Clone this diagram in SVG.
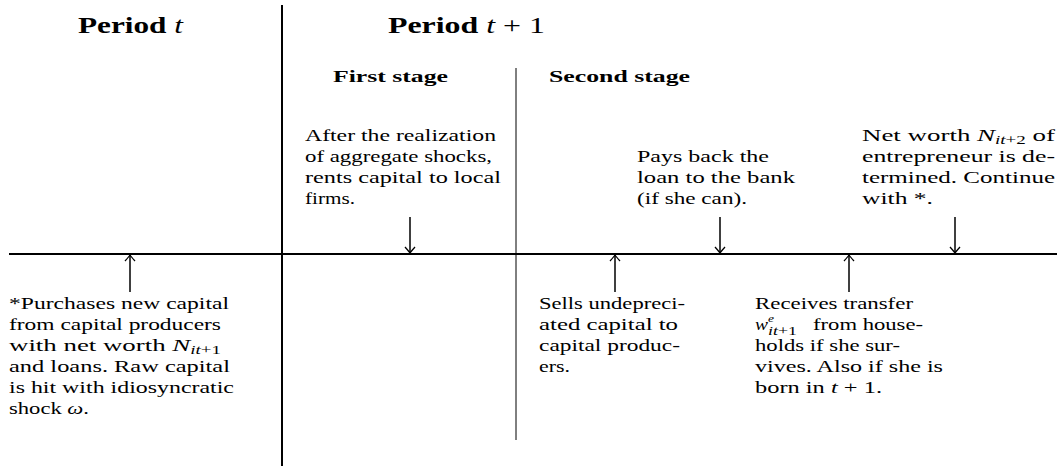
<svg xmlns="http://www.w3.org/2000/svg" width="1057" height="469" viewBox="0 0 1057 469">
<style>
text{font-family:"Liberation Serif","Times New Roman",serif;fill:#000}
.t{font-size:17px}
.h{font-size:23px}
.bf{font-weight:bold}
.s{font-size:17px;font-weight:bold}
.i{font-style:italic}
.m{font-weight:normal}
.sm{font-size:12px}
.ss{font-size:11px}
.ln{stroke:#000;fill:none}
.ar{stroke:#000;stroke-width:1.5;fill:none;marker-end:url(#ah)}
</style>
<defs>
<marker id="ah" markerUnits="userSpaceOnUse" markerWidth="14" markerHeight="14" viewBox="-7 -7 14 14" refX="0" refY="0" orient="auto">
<path d="M-6,-5 Q-1.5,-1 0,0 Q-1.5,1 -6,5" fill="none" stroke="#000" stroke-width="1.3"/>
</marker>
</defs>
<rect width="1057" height="469" fill="#fff"/>
<g id="connectors">
<line class="ln" x1="9" y1="254" x2="1057" y2="254" stroke-width="2"/>
<line class="ln" x1="282" y1="5" x2="282" y2="466" stroke-width="2"/>
<line class="ln" x1="516" y1="68" x2="516" y2="440" stroke-width="1"/>
<line class="ar" x1="130" y1="292" x2="130" y2="255"/>
<line class="ar" x1="410" y1="217" x2="410" y2="253"/>
<line class="ar" x1="615" y1="292" x2="615" y2="255"/>
<line class="ar" x1="720" y1="217" x2="720" y2="253"/>
<line class="ar" x1="849" y1="292" x2="849" y2="255"/>
<line class="ar" x1="955" y1="217" x2="955" y2="253"/>
</g>
<g id="headers">
<text class="h bf" x="78" y="33" textLength="105" lengthAdjust="spacingAndGlyphs">Period <tspan class="i m">t</tspan></text>
<text class="h bf" x="388" y="33" textLength="157" lengthAdjust="spacingAndGlyphs">Period <tspan class="i m">t</tspan><tspan class="m"> + 1</tspan></text>
<text class="s" x="333" y="82" textLength="115" lengthAdjust="spacingAndGlyphs">First stage</text>
<text class="s" x="549" y="82" textLength="141" lengthAdjust="spacingAndGlyphs">Second stage</text>
</g>
<g id="node-rent">
<text class="t" x="305" y="141" textLength="191" lengthAdjust="spacingAndGlyphs">After the realization</text>
<text class="t" x="305" y="162" textLength="187" lengthAdjust="spacingAndGlyphs">of aggregate shocks,</text>
<text class="t" x="305" y="183" textLength="196" lengthAdjust="spacingAndGlyphs">rents capital to local</text>
<text class="t" x="305" y="204" textLength="50" lengthAdjust="spacingAndGlyphs">firms.</text>
</g>
<g id="node-pay">
<text class="t" x="637" y="162" textLength="132" lengthAdjust="spacingAndGlyphs">Pays back the</text>
<text class="t" x="637" y="183" textLength="158" lengthAdjust="spacingAndGlyphs">loan to the bank</text>
<text class="t" x="637" y="204" textLength="110" lengthAdjust="spacingAndGlyphs">(if she can).</text>
</g>
<g id="node-networth">
<text class="t" x="862" y="141" textLength="193" lengthAdjust="spacingAndGlyphs">Net worth <tspan class="i">N</tspan><tspan class="sm i" dy="3">it</tspan><tspan class="sm">+2</tspan><tspan dy="-3"> of</tspan></text>
<text class="t" x="862" y="162" textLength="193" lengthAdjust="spacingAndGlyphs">entrepreneur is de-</text>
<text class="t" x="862" y="183" textLength="193" lengthAdjust="spacingAndGlyphs">termined. Continue</text>
<text class="t" x="862" y="204" textLength="71" lengthAdjust="spacingAndGlyphs">with *.</text>
</g>
<g id="node-purchase">
<text class="t" x="9" y="309" textLength="220" lengthAdjust="spacingAndGlyphs">*Purchases new capital</text>
<text class="t" x="9" y="330" textLength="212" lengthAdjust="spacingAndGlyphs">from capital producers</text>
<text class="t" x="9" y="351" textLength="212" lengthAdjust="spacingAndGlyphs">with net worth <tspan class="i">N</tspan><tspan class="sm i" dy="3">it</tspan><tspan class="sm">+1</tspan></text>
<text class="t" x="9" y="372" textLength="221" lengthAdjust="spacingAndGlyphs">and loans. Raw capital</text>
<text class="t" x="9" y="393" textLength="225" lengthAdjust="spacingAndGlyphs">is hit with idiosyncratic</text>
<text class="t" x="9" y="414" textLength="80" lengthAdjust="spacingAndGlyphs">shock <tspan class="i">ω</tspan>.</text>
</g>
<g id="node-sell">
<text class="t" x="539" y="309" textLength="146" lengthAdjust="spacingAndGlyphs">Sells undepreci-</text>
<text class="t" x="539" y="330" textLength="139" lengthAdjust="spacingAndGlyphs">ated capital to</text>
<text class="t" x="539" y="351" textLength="141" lengthAdjust="spacingAndGlyphs">capital produc-</text>
<text class="t" x="539" y="372" textLength="31" lengthAdjust="spacingAndGlyphs">ers.</text>
</g>
<g id="node-transfer">
<text class="t" x="755" y="309" textLength="158" lengthAdjust="spacingAndGlyphs">Receives transfer</text>
<text class="t i" x="755" y="330" textLength="13" lengthAdjust="spacingAndGlyphs">w</text>
<text class="ss i" x="768" y="322" textLength="6" lengthAdjust="spacingAndGlyphs">e</text>
<text x="768" y="335" font-size="13" textLength="29" lengthAdjust="spacingAndGlyphs"><tspan class="i">it</tspan>+1</text>
<text class="t" x="813" y="330" textLength="110" lengthAdjust="spacingAndGlyphs">from house-</text>
<text class="t" x="755" y="351" textLength="145" lengthAdjust="spacingAndGlyphs">holds if she sur-</text>
<text class="t" x="755" y="372" textLength="188" lengthAdjust="spacingAndGlyphs">vives. Also if she is</text>
<text class="t" x="755" y="393" textLength="127" lengthAdjust="spacingAndGlyphs">born in <tspan class="i">t</tspan> + 1.</text>
</g>
</svg>
